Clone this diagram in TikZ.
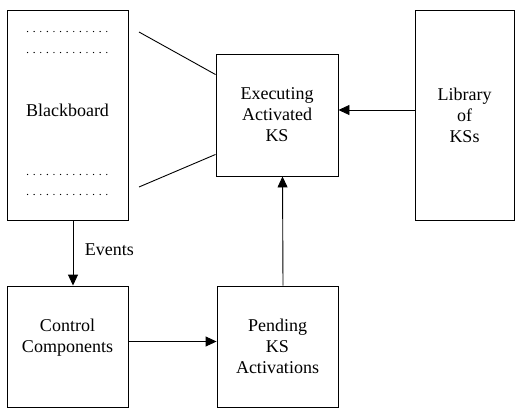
\documentclass[tikz,border=0pt]{standalone}
\usepackage{fontspec}
\setmainfont{Liberation Serif}
\usetikzlibrary{arrows.meta}

\begin{document}
\begin{tikzpicture}[
	x=1pt, y=1pt,
	every node/.style={align=center, font=\rmfamily\fontsize{18}{21}\selectfont},
	box/.style={draw, line width=0.9pt, inner sep=0pt},
	arr/.style={line width=0.9pt, -{Triangle[length=11pt,width=10pt]}},
	link/.style={line width=0.9pt},
	dotrow/.style={line width=1.4pt, line cap=round, dash pattern=on 0pt off 6.6pt}
	]
	\useasboundingbox (0,0) rectangle (521,-414);
	
	% Nodes
	\node[box, minimum width=121pt, minimum height=210pt] (board) at (67.5,-115) {Blackboard\\[-11pt]};
	\node[box, minimum width=122pt, minimum height=122pt] (exec) at (277,-115) {Executing\\Activated\\KS};
	\node[box, minimum width=99pt, minimum height=210pt] (lib) at (464.5,-115) {Library\\of\\KSs};
	\node[box, minimum width=121pt, minimum height=121pt] (ctrl) at (67.5,-346.5) {Control\\Components\\~};
	\node[box, minimum width=121pt, minimum height=121pt] (pend) at (277.5,-346.5) {Pending\\KS\\Activations};
	
	% Dotted rows in the blackboard
	\draw[dotrow] ([xshift=21pt,yshift=-22pt]board.north west) -- ++(81,0);
	\draw[dotrow] ([xshift=21pt,yshift=-43pt]board.north west) -- ++(81,0);
	\draw[dotrow] ([xshift=21pt,yshift=46pt]board.south west) -- ++(81,0);
	\draw[dotrow] ([xshift=21pt,yshift=26pt]board.south west) -- ++(81,0);
	
	% Lines between blackboard and executing KS
	\coordinate (topend) at (139,-32);
	\coordinate (botend) at (139,-187);
	\draw[link] (topend) -- ([yshift=-21pt]exec.north west);
	\draw[link] (botend) -- ([yshift=22pt]exec.south west);
	
	% Arrows
	\draw[arr] ([xshift=5.5pt]board.south) -- node[right=8pt, pos=0.45] (events) {Events} ([xshift=5.5pt]ctrl.north);
	\draw[arr] ([yshift=5pt]ctrl.east) -- ([yshift=5pt]pend.west);
	\draw[arr] ([xshift=5.5pt]pend.north) -- ([xshift=5.5pt]exec.south);
	\draw[arr] ([yshift=5pt]lib.west) -- ([yshift=5pt]exec.east);
	
\end{tikzpicture}
\end{document}
